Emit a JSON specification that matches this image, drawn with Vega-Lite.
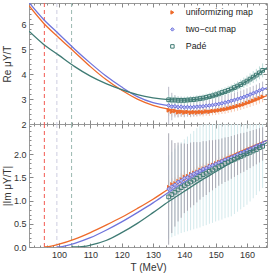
{
  "$schema": "https://vega.github.io/schema/vega-lite/v6.json",
  "padding": {"left": 1, "top": 2, "right": 0, "bottom": 0},
  "spacing": 0,
  "bounds": "flush",
  "datasets": {
    "thr": [
      {"T": 95.3, "s": "uniformizing map"},
      {"T": 99.3, "s": "two−cut map"},
      {"T": 104.0, "s": "Padé"}
    ],
    "curvesRe": [
      {"T": 90.4, "s": "uniformizing map", "v": 6.74}, {"T": 95, "s": "uniformizing map", "v": 6.05}, {"T": 100, "s": "uniformizing map", "v": 5.45}, {"T": 105, "s": "uniformizing map", "v": 4.88}, {"T": 110, "s": "uniformizing map", "v": 4.3}, {"T": 115, "s": "uniformizing map", "v": 3.78}, {"T": 120, "s": "uniformizing map", "v": 3.35}, {"T": 125, "s": "uniformizing map", "v": 3.0}, {"T": 130, "s": "uniformizing map", "v": 2.75}, {"T": 135, "s": "uniformizing map", "v": 2.6}, {"T": 140, "s": "uniformizing map", "v": 2.52}, {"T": 145, "s": "uniformizing map", "v": 2.51}, {"T": 150, "s": "uniformizing map", "v": 2.56}, {"T": 155, "s": "uniformizing map", "v": 2.67}, {"T": 160, "s": "uniformizing map", "v": 2.85}, {"T": 166.4, "s": "uniformizing map", "v": 3.14},
      {"T": 90.4, "s": "two−cut map", "v": 6.87}, {"T": 95, "s": "two−cut map", "v": 6.2}, {"T": 100, "s": "two−cut map", "v": 5.6}, {"T": 105, "s": "two−cut map", "v": 5.0}, {"T": 110, "s": "two−cut map", "v": 4.44}, {"T": 115, "s": "two−cut map", "v": 3.92}, {"T": 120, "s": "two−cut map", "v": 3.48}, {"T": 125, "s": "two−cut map", "v": 3.1}, {"T": 130, "s": "two−cut map", "v": 2.86}, {"T": 135, "s": "two−cut map", "v": 2.74}, {"T": 140, "s": "two−cut map", "v": 2.69}, {"T": 145, "s": "two−cut map", "v": 2.71}, {"T": 150, "s": "two−cut map", "v": 2.79}, {"T": 155, "s": "two−cut map", "v": 2.94}, {"T": 160, "s": "two−cut map", "v": 3.14}, {"T": 166.4, "s": "two−cut map", "v": 3.45},
      {"T": 90.4, "s": "Padé", "v": 5.72}, {"T": 95, "s": "Padé", "v": 5.2}, {"T": 100, "s": "Padé", "v": 4.75}, {"T": 105, "s": "Padé", "v": 4.3}, {"T": 110, "s": "Padé", "v": 3.92}, {"T": 115, "s": "Padé", "v": 3.62}, {"T": 120, "s": "Padé", "v": 3.38}, {"T": 125, "s": "Padé", "v": 3.18}, {"T": 130, "s": "Padé", "v": 3.05}, {"T": 135, "s": "Padé", "v": 2.98}, {"T": 140, "s": "Padé", "v": 2.96}, {"T": 145, "s": "Padé", "v": 3.01}, {"T": 150, "s": "Padé", "v": 3.15}, {"T": 155, "s": "Padé", "v": 3.38}, {"T": 160, "s": "Padé", "v": 3.72}, {"T": 166.4, "s": "Padé", "v": 4.25}
    ],
    "curvesIm": [
      {"T": 95.3, "s": "uniformizing map", "v": 0}, {"T": 97.5, "s": "uniformizing map", "v": 0.02}, {"T": 100, "s": "uniformizing map", "v": 0.06}, {"T": 105, "s": "uniformizing map", "v": 0.17}, {"T": 110, "s": "uniformizing map", "v": 0.31}, {"T": 115, "s": "uniformizing map", "v": 0.47}, {"T": 120, "s": "uniformizing map", "v": 0.64}, {"T": 125, "s": "uniformizing map", "v": 0.83}, {"T": 130, "s": "uniformizing map", "v": 1.03}, {"T": 135, "s": "uniformizing map", "v": 1.25}, {"T": 140, "s": "uniformizing map", "v": 1.45}, {"T": 145, "s": "uniformizing map", "v": 1.64}, {"T": 150, "s": "uniformizing map", "v": 1.81}, {"T": 155, "s": "uniformizing map", "v": 1.97}, {"T": 160, "s": "uniformizing map", "v": 2.12}, {"T": 166.4, "s": "uniformizing map", "v": 2.3},
      {"T": 99.3, "s": "two−cut map", "v": 0}, {"T": 101, "s": "two−cut map", "v": 0.01}, {"T": 105, "s": "two−cut map", "v": 0.08}, {"T": 110, "s": "two−cut map", "v": 0.2}, {"T": 115, "s": "two−cut map", "v": 0.36}, {"T": 120, "s": "two−cut map", "v": 0.54}, {"T": 125, "s": "two−cut map", "v": 0.74}, {"T": 130, "s": "two−cut map", "v": 0.95}, {"T": 135, "s": "two−cut map", "v": 1.18}, {"T": 140, "s": "two−cut map", "v": 1.4}, {"T": 145, "s": "two−cut map", "v": 1.6}, {"T": 150, "s": "two−cut map", "v": 1.78}, {"T": 155, "s": "two−cut map", "v": 1.95}, {"T": 160, "s": "two−cut map", "v": 2.11}, {"T": 166.4, "s": "two−cut map", "v": 2.3},
      {"T": 104, "s": "Padé", "v": 0}, {"T": 108, "s": "Padé", "v": 0.015}, {"T": 110, "s": "Padé", "v": 0.04}, {"T": 115, "s": "Padé", "v": 0.14}, {"T": 120, "s": "Padé", "v": 0.31}, {"T": 125, "s": "Padé", "v": 0.51}, {"T": 130, "s": "Padé", "v": 0.74}, {"T": 135, "s": "Padé", "v": 0.98}, {"T": 140, "s": "Padé", "v": 1.2}, {"T": 145, "s": "Padé", "v": 1.42}, {"T": 150, "s": "Padé", "v": 1.62}, {"T": 155, "s": "Padé", "v": 1.82}, {"T": 160, "s": "Padé", "v": 2.01}, {"T": 166.4, "s": "Padé", "v": 2.25}
    ],
    "pts": [
      {"T":135,"s":"uniformizing map","re":2.55,"reErr":0.22,"im":1.30,"imErr":0.14},
      {"T":136,"s":"uniformizing map","re":2.50,"reErr":0.2,"im":1.36,"imErr":0.12},
      {"T":137,"s":"uniformizing map","re":2.52,"reErr":0.2,"im":1.38,"imErr":0.12},
      {"T":138,"s":"uniformizing map","re":2.47,"reErr":0.19,"im":1.43,"imErr":0.12},
      {"T":139,"s":"uniformizing map","re":2.49,"reErr":0.19,"im":1.47,"imErr":0.12},
      {"T":140,"s":"uniformizing map","re":2.46,"reErr":0.18,"im":1.52,"imErr":0.12},
      {"T":141,"s":"uniformizing map","re":2.48,"reErr":0.18,"im":1.54,"imErr":0.11},
      {"T":142,"s":"uniformizing map","re":2.45,"reErr":0.18,"im":1.58,"imErr":0.11},
      {"T":143,"s":"uniformizing map","re":2.47,"reErr":0.18,"im":1.61,"imErr":0.11},
      {"T":144,"s":"uniformizing map","re":2.46,"reErr":0.17,"im":1.63,"imErr":0.11},
      {"T":145,"s":"uniformizing map","re":2.48,"reErr":0.17,"im":1.67,"imErr":0.11},
      {"T":146,"s":"uniformizing map","re":2.47,"reErr":0.17,"im":1.70,"imErr":0.1},
      {"T":147,"s":"uniformizing map","re":2.50,"reErr":0.17,"im":1.72,"imErr":0.1},
      {"T":148,"s":"uniformizing map","re":2.49,"reErr":0.17,"im":1.76,"imErr":0.1},
      {"T":149,"s":"uniformizing map","re":2.52,"reErr":0.17,"im":1.78,"imErr":0.1},
      {"T":150,"s":"uniformizing map","re":2.53,"reErr":0.17,"im":1.81,"imErr":0.1},
      {"T":151,"s":"uniformizing map","re":2.55,"reErr":0.17,"im":1.84,"imErr":0.1},
      {"T":152,"s":"uniformizing map","re":2.57,"reErr":0.17,"im":1.86,"imErr":0.1},
      {"T":153,"s":"uniformizing map","re":2.59,"reErr":0.18,"im":1.89,"imErr":0.1},
      {"T":154,"s":"uniformizing map","re":2.62,"reErr":0.18,"im":1.92,"imErr":0.1},
      {"T":155,"s":"uniformizing map","re":2.65,"reErr":0.18,"im":1.95,"imErr":0.1},
      {"T":156,"s":"uniformizing map","re":2.68,"reErr":0.18,"im":1.97,"imErr":0.1},
      {"T":157,"s":"uniformizing map","re":2.72,"reErr":0.19,"im":2.00,"imErr":0.1},
      {"T":158,"s":"uniformizing map","re":2.75,"reErr":0.19,"im":2.03,"imErr":0.1},
      {"T":159,"s":"uniformizing map","re":2.79,"reErr":0.19,"im":2.05,"imErr":0.1},
      {"T":160,"s":"uniformizing map","re":2.84,"reErr":0.2,"im":2.08,"imErr":0.1},
      {"T":161,"s":"uniformizing map","re":2.88,"reErr":0.2,"im":2.11,"imErr":0.1},
      {"T":162,"s":"uniformizing map","re":2.93,"reErr":0.2,"im":2.14,"imErr":0.1},
      {"T":163,"s":"uniformizing map","re":2.98,"reErr":0.21,"im":2.17,"imErr":0.1},
      {"T":164,"s":"uniformizing map","re":3.03,"reErr":0.21,"im":2.20,"imErr":0.1},
      {"T":165,"s":"uniformizing map","re":3.09,"reErr":0.22,"im":2.23,"imErr":0.1},
      {"T":135,"s":"two−cut map","re":2.74,"reErr":0.75,"im":1.25,"imErr":1.2},
      {"T":136,"s":"two−cut map","re":2.70,"reErr":0.55,"im":1.30,"imErr":1.0},
      {"T":137,"s":"two−cut map","re":2.71,"reErr":0.45,"im":1.34,"imErr":0.9},
      {"T":138,"s":"two−cut map","re":2.68,"reErr":0.42,"im":1.40,"imErr":0.85},
      {"T":139,"s":"two−cut map","re":2.69,"reErr":0.4,"im":1.43,"imErr":0.8},
      {"T":140,"s":"two−cut map","re":2.67,"reErr":0.4,"im":1.48,"imErr":0.75},
      {"T":141,"s":"two−cut map","re":2.68,"reErr":0.38,"im":1.50,"imErr":0.72},
      {"T":142,"s":"two−cut map","re":2.67,"reErr":0.38,"im":1.55,"imErr":0.7},
      {"T":143,"s":"two−cut map","re":2.68,"reErr":0.37,"im":1.58,"imErr":0.68},
      {"T":144,"s":"two−cut map","re":2.69,"reErr":0.36,"im":1.61,"imErr":0.65},
      {"T":145,"s":"two−cut map","re":2.70,"reErr":0.35,"im":1.64,"imErr":0.62},
      {"T":146,"s":"two−cut map","re":2.71,"reErr":0.35,"im":1.68,"imErr":0.6},
      {"T":147,"s":"two−cut map","re":2.73,"reErr":0.34,"im":1.70,"imErr":0.58},
      {"T":148,"s":"two−cut map","re":2.74,"reErr":0.34,"im":1.74,"imErr":0.56},
      {"T":149,"s":"two−cut map","re":2.76,"reErr":0.33,"im":1.76,"imErr":0.54},
      {"T":150,"s":"two−cut map","re":2.78,"reErr":0.33,"im":1.79,"imErr":0.52},
      {"T":151,"s":"two−cut map","re":2.80,"reErr":0.32,"im":1.82,"imErr":0.5},
      {"T":152,"s":"two−cut map","re":2.83,"reErr":0.32,"im":1.85,"imErr":0.49},
      {"T":153,"s":"two−cut map","re":2.86,"reErr":0.31,"im":1.88,"imErr":0.48},
      {"T":154,"s":"two−cut map","re":2.89,"reErr":0.31,"im":1.90,"imErr":0.47},
      {"T":155,"s":"two−cut map","re":2.93,"reErr":0.3,"im":1.93,"imErr":0.46},
      {"T":156,"s":"two−cut map","re":2.96,"reErr":0.3,"im":1.96,"imErr":0.45},
      {"T":157,"s":"two−cut map","re":3.00,"reErr":0.3,"im":1.99,"imErr":0.44},
      {"T":158,"s":"two−cut map","re":3.04,"reErr":0.3,"im":2.02,"imErr":0.43},
      {"T":159,"s":"two−cut map","re":3.08,"reErr":0.3,"im":2.04,"imErr":0.42},
      {"T":160,"s":"two−cut map","re":3.13,"reErr":0.3,"im":2.07,"imErr":0.41},
      {"T":161,"s":"two−cut map","re":3.18,"reErr":0.3,"im":2.10,"imErr":0.4},
      {"T":162,"s":"two−cut map","re":3.23,"reErr":0.3,"im":2.13,"imErr":0.39},
      {"T":163,"s":"two−cut map","re":3.28,"reErr":0.3,"im":2.16,"imErr":0.38},
      {"T":164,"s":"two−cut map","re":3.34,"reErr":0.3,"im":2.19,"imErr":0.37},
      {"T":165,"s":"two−cut map","re":3.40,"reErr":0.3,"im":2.22,"imErr":0.36},
      {"T":135,"s":"Padé","re":2.97,"reErr":0.2,"im":1.08,"imErr":0.9},
      {"T":136,"s":"Padé","re":2.96,"reErr":0.18,"im":1.13,"imErr":0.92},
      {"T":137,"s":"Padé","re":2.96,"reErr":0.17,"im":1.18,"imErr":0.94},
      {"T":138,"s":"Padé","re":2.95,"reErr":0.16,"im":1.23,"imErr":0.96},
      {"T":139,"s":"Padé","re":2.95,"reErr":0.15,"im":1.28,"imErr":0.98},
      {"T":140,"s":"Padé","re":2.95,"reErr":0.15,"im":1.32,"imErr":1.0},
      {"T":141,"s":"Padé","re":2.96,"reErr":0.15,"im":1.36,"imErr":1.02},
      {"T":142,"s":"Padé","re":2.97,"reErr":0.15,"im":1.40,"imErr":1.04},
      {"T":143,"s":"Padé","re":2.98,"reErr":0.15,"im":1.44,"imErr":1.06},
      {"T":144,"s":"Padé","re":3.00,"reErr":0.15,"im":1.48,"imErr":1.08},
      {"T":145,"s":"Padé","re":3.02,"reErr":0.15,"im":1.52,"imErr":1.1},
      {"T":146,"s":"Padé","re":3.04,"reErr":0.15,"im":1.56,"imErr":1.11},
      {"T":147,"s":"Padé","re":3.07,"reErr":0.15,"im":1.59,"imErr":1.12},
      {"T":148,"s":"Padé","re":3.10,"reErr":0.15,"im":1.63,"imErr":1.13},
      {"T":149,"s":"Padé","re":3.13,"reErr":0.16,"im":1.66,"imErr":1.14},
      {"T":150,"s":"Padé","re":3.17,"reErr":0.16,"im":1.70,"imErr":1.15},
      {"T":151,"s":"Padé","re":3.21,"reErr":0.16,"im":1.73,"imErr":1.16},
      {"T":152,"s":"Padé","re":3.26,"reErr":0.17,"im":1.76,"imErr":1.17},
      {"T":153,"s":"Padé","re":3.30,"reErr":0.17,"im":1.80,"imErr":1.18},
      {"T":154,"s":"Padé","re":3.35,"reErr":0.18,"im":1.83,"imErr":1.19},
      {"T":155,"s":"Padé","re":3.40,"reErr":0.18,"im":1.86,"imErr":1.2},
      {"T":156,"s":"Padé","re":3.46,"reErr":0.19,"im":1.89,"imErr":1.18},
      {"T":157,"s":"Padé","re":3.52,"reErr":0.19,"im":1.92,"imErr":1.16},
      {"T":158,"s":"Padé","re":3.58,"reErr":0.2,"im":1.95,"imErr":1.14},
      {"T":159,"s":"Padé","re":3.65,"reErr":0.21,"im":1.98,"imErr":1.12},
      {"T":160,"s":"Padé","re":3.72,"reErr":0.22,"im":2.01,"imErr":1.1},
      {"T":161,"s":"Padé","re":3.80,"reErr":0.23,"im":2.04,"imErr":1.06},
      {"T":162,"s":"Padé","re":3.88,"reErr":0.24,"im":2.07,"imErr":1.02},
      {"T":163,"s":"Padé","re":3.96,"reErr":0.25,"im":2.10,"imErr":0.98},
      {"T":164,"s":"Padé","re":4.05,"reErr":0.26,"im":2.14,"imErr":0.94},
      {"T":165,"s":"Padé","re":4.15,"reErr":0.28,"im":2.17,"imErr":0.9}
    ]
  },
  "vconcat": [
    {
      "width": 238,
      "height": 121,
      "resolve": {"axis": {"x": "independent", "y": "independent"}},
      "layer": [
        {
          "data": {"name": "thr"},
          "transform": [{"filter": "datum.s === 'uniformizing map'"}],
          "mark": {"type": "rule", "strokeDash": [4, 3], "strokeWidth": 1, "color": "#f25a52"},
          "encoding": {
            "x": {"field": "T", "type": "quantitative", "scale": {"domain": [90.4, 166.4], "nice": false, "zero": false},
                  "axis": {"orient": "bottom", "values": [100, 110, 120, 130, 140, 150, 160], "labels": false, "tickSize": -4, "title": null}}
          }
        },
        {
          "data": {"name": "thr"},
          "transform": [{"filter": "datum.s === 'two−cut map'"}],
          "mark": {"type": "rule", "strokeDash": [4, 3], "strokeWidth": 1, "color": "#cdcde0"},
          "encoding": {"x": {"field": "T", "type": "quantitative", "axis": null}}
        },
        {
          "data": {"name": "thr"},
          "transform": [{"filter": "datum.s === 'Padé'"}],
          "mark": {"type": "rule", "strokeDash": [4, 3], "strokeWidth": 1, "color": "#9bb8b0"},
          "encoding": {"x": {"field": "T", "type": "quantitative", "axis": null}}
        },
        {
          "data": {"name": "pts"},
          "transform": [{"filter": "datum.s === 'uniformizing map'"}],
          "mark": {"type": "errorbar", "ticks": false, "color": "#f8c6ad", "clip": true},
          "encoding": {
            "x": {"field": "T", "type": "quantitative", "axis": {"orient": "bottom", "values": [92, 94, 96, 98, 102, 104, 106, 108, 112, 114, 116, 118, 122, 124, 126, 128, 132, 134, 136, 138, 142, 144, 146, 148, 152, 154, 156, 158, 162, 164, 166], "labels": false, "tickSize": -2, "title": null}},
            "y": {"field": "re", "type": "quantitative", "scale": {"domain": [2, 6.85], "nice": false, "zero": false},
                  "axis": {"orient": "left", "values": [2, 3, 4, 5, 6], "tickSize": -4, "labelPadding": 7, "title": "Re μY/T", "titleX": -17}},
            "yError": {"field": "reErr"}
          }
        },
        {
          "data": {"name": "pts"},
          "transform": [{"filter": "datum.s === 'two−cut map'"}],
          "mark": {"type": "errorbar", "ticks": false, "color": "#b9b9c8", "clip": true},
          "encoding": {
            "x": {"field": "T", "type": "quantitative", "axis": {"orient": "top", "values": [100, 110, 120, 130, 140, 150, 160], "labels": false, "tickSize": -4, "title": null}},
            "y": {"field": "re", "type": "quantitative",
                  "axis": {"orient": "left", "values": [2.2, 2.4, 2.6, 2.8, 3.2, 3.4, 3.6, 3.8, 4.2, 4.4, 4.6, 4.8, 5.2, 5.4, 5.6, 5.8, 6.2, 6.4, 6.6, 6.8], "labels": false, "tickSize": -2, "title": null}},
            "yError": {"field": "reErr"}
          }
        },
        {
          "data": {"name": "pts"},
          "transform": [{"filter": "datum.s === 'Padé'"}],
          "mark": {"type": "errorbar", "ticks": false, "color": "#bddcd8", "clip": true},
          "encoding": {
            "x": {"field": "T", "type": "quantitative", "axis": {"orient": "top", "values": [92, 94, 96, 98, 102, 104, 106, 108, 112, 114, 116, 118, 122, 124, 126, 128, 132, 134, 136, 138, 142, 144, 146, 148, 152, 154, 156, 158, 162, 164, 166], "labels": false, "tickSize": -2, "title": null}},
            "y": {"field": "re", "type": "quantitative",
                  "axis": {"orient": "right", "values": [2, 3, 4, 5, 6], "labels": false, "tickSize": -4, "title": null}},
            "yError": {"field": "reErr"}
          }
        },
        {
          "data": {"name": "curvesRe"},
          "transform": [{"filter": "datum.s === 'uniformizing map'"}],
          "mark": {"type": "line", "color": "#ee6a2a", "strokeWidth": 1.3, "interpolate": "monotone", "clip": true},
          "encoding": {
            "x": {"field": "T", "type": "quantitative", "axis": null},
            "y": {"field": "v", "type": "quantitative",
                  "axis": {"orient": "right", "values": [2.2, 2.4, 2.6, 2.8, 3.2, 3.4, 3.6, 3.8, 4.2, 4.4, 4.6, 4.8, 5.2, 5.4, 5.6, 5.8, 6.2, 6.4, 6.6, 6.8], "labels": false, "tickSize": -2, "title": null}}
          }
        },
        {
          "data": {"name": "curvesRe"},
          "transform": [{"filter": "datum.s === 'two−cut map'"}],
          "mark": {"type": "line", "color": "#6f74dc", "strokeWidth": 1.3, "interpolate": "monotone", "clip": true},
          "encoding": {
            "x": {"field": "T", "type": "quantitative", "axis": null},
            "y": {"field": "v", "type": "quantitative", "axis": null}
          }
        },
        {
          "data": {"name": "curvesRe"},
          "transform": [{"filter": "datum.s === 'Padé'"}],
          "mark": {"type": "line", "color": "#3f7b74", "strokeWidth": 1.3, "interpolate": "monotone", "clip": true},
          "encoding": {
            "x": {"field": "T", "type": "quantitative", "axis": null},
            "y": {"field": "v", "type": "quantitative", "axis": null}
          }
        },
        {
          "data": {"name": "pts"},
          "mark": {"type": "point", "size": 14, "strokeWidth": 1, "opacity": 1, "clip": true},
          "encoding": {
            "x": {"field": "T", "type": "quantitative", "axis": null},
            "y": {"field": "re", "type": "quantitative", "axis": null},
            "stroke": {"field": "s", "type": "nominal", "scale": {"domain": ["uniformizing map", "two−cut map", "Padé"], "range": ["#ee6a2a", "#6f74dc", "#3f7b74"]},
                       "legend": {"orient": "none", "legendX": 139, "legendY": 5, "title": null, "labelFont": "Liberation Sans", "labelFontSize": 8.8, "labelColor": "#222", "labelOffset": 9, "symbolSize": 12, "symbolStrokeWidth": 1, "rowPadding": 7, "padding": 0}},
            "fill": {"field": "s", "type": "nominal", "scale": {"domain": ["uniformizing map", "two−cut map", "Padé"], "range": ["#ee6a2a", "#b6b9f2", "transparent"]},
                     "legend": {"orient": "none", "legendX": 139, "legendY": 5, "title": null, "labelFont": "Liberation Sans", "labelFontSize": 8.8, "labelColor": "#222", "labelOffset": 9, "symbolSize": 12, "symbolStrokeWidth": 1, "rowPadding": 7, "padding": 0}},
            "shape": {"field": "s", "type": "nominal", "scale": {"domain": ["uniformizing map", "two−cut map", "Padé"], "range": ["triangle-right", "diamond", "square"]},
                      "legend": {"orient": "none", "legendX": 139, "legendY": 5, "title": null, "labelFont": "Liberation Sans", "labelFontSize": 8.8, "labelColor": "#222", "labelOffset": 9, "symbolSize": 12, "symbolStrokeWidth": 1, "rowPadding": 7, "padding": 0}}
          }
        }
      ]
    },
    {
      "width": 238,
      "height": 123,
      "resolve": {"axis": {"x": "independent", "y": "independent"}},
      "layer": [
        {
          "data": {"name": "thr"},
          "transform": [{"filter": "datum.s === 'uniformizing map'"}],
          "mark": {"type": "rule", "strokeDash": [4, 3], "strokeWidth": 1, "color": "#f25a52"},
          "encoding": {
            "x": {"field": "T", "type": "quantitative", "scale": {"domain": [90.4, 166.4], "nice": false, "zero": false},
                  "axis": {"orient": "bottom", "values": [100, 110, 120, 130, 140, 150, 160], "tickSize": -4, "labelPadding": 7, "title": "T (MeV)"}}
          }
        },
        {
          "data": {"name": "thr"},
          "transform": [{"filter": "datum.s === 'two−cut map'"}],
          "mark": {"type": "rule", "strokeDash": [4, 3], "strokeWidth": 1, "color": "#cdcde0"},
          "encoding": {"x": {"field": "T", "type": "quantitative", "axis": null}}
        },
        {
          "data": {"name": "thr"},
          "transform": [{"filter": "datum.s === 'Padé'"}],
          "mark": {"type": "rule", "strokeDash": [4, 3], "strokeWidth": 1, "color": "#9bb8b0"},
          "encoding": {"x": {"field": "T", "type": "quantitative", "axis": null}}
        },
        {
          "data": {"name": "pts"},
          "transform": [{"filter": "datum.s === 'uniformizing map'"}],
          "mark": {"type": "errorbar", "ticks": false, "color": "#f8c6ad", "clip": true},
          "encoding": {
            "x": {"field": "T", "type": "quantitative", "axis": {"orient": "bottom", "values": [92, 94, 96, 98, 102, 104, 106, 108, 112, 114, 116, 118, 122, 124, 126, 128, 132, 134, 136, 138, 142, 144, 146, 148, 152, 154, 156, 158, 162, 164, 166], "labels": false, "tickSize": -2, "title": null}},
            "y": {"field": "im", "type": "quantitative", "scale": {"domain": [0, 2.65], "nice": false, "zero": false},
                  "axis": {"orient": "left", "values": [0, 0.5, 1, 1.5, 2], "format": ".1f", "tickSize": -4, "labelPadding": 7, "title": "|Im μY/T|", "titleX": -17}},
            "yError": {"field": "imErr"}
          }
        },
        {
          "data": {"name": "pts"},
          "transform": [{"filter": "datum.s === 'Padé'"}],
          "mark": {"type": "errorbar", "ticks": false, "color": "#d3e9ec", "clip": true},
          "encoding": {
            "x": {"field": "T", "type": "quantitative", "axis": {"orient": "top", "values": [100, 110, 120, 130, 140, 150, 160], "labels": false, "tickSize": -4, "title": null}},
            "y": {"field": "im", "type": "quantitative",
                  "axis": {"orient": "left", "values": [0.1, 0.2, 0.3, 0.4, 0.6, 0.7, 0.8, 0.9, 1.1, 1.2, 1.3, 1.4, 1.6, 1.7, 1.8, 1.9, 2.1, 2.2, 2.3, 2.4, 2.5, 2.6], "labels": false, "tickSize": -2, "title": null}},
            "yError": {"field": "imErr"}
          }
        },
        {
          "data": {"name": "pts"},
          "transform": [{"filter": "datum.s === 'two−cut map'"}],
          "mark": {"type": "errorbar", "ticks": false, "color": "#a9a9b4", "clip": true},
          "encoding": {
            "x": {"field": "T", "type": "quantitative", "axis": {"orient": "top", "values": [92, 94, 96, 98, 102, 104, 106, 108, 112, 114, 116, 118, 122, 124, 126, 128, 132, 134, 136, 138, 142, 144, 146, 148, 152, 154, 156, 158, 162, 164, 166], "labels": false, "tickSize": -2, "title": null}},
            "y": {"field": "im", "type": "quantitative",
                  "axis": {"orient": "right", "values": [0, 0.5, 1, 1.5, 2], "labels": false, "tickSize": -4, "title": null}},
            "yError": {"field": "imErr"}
          }
        },
        {
          "data": {"name": "curvesIm"},
          "transform": [{"filter": "datum.s === 'uniformizing map'"}],
          "mark": {"type": "line", "color": "#ee6a2a", "strokeWidth": 1.3, "interpolate": "monotone", "clip": true},
          "encoding": {
            "x": {"field": "T", "type": "quantitative", "axis": null},
            "y": {"field": "v", "type": "quantitative",
                  "axis": {"orient": "right", "values": [0.1, 0.2, 0.3, 0.4, 0.6, 0.7, 0.8, 0.9, 1.1, 1.2, 1.3, 1.4, 1.6, 1.7, 1.8, 1.9, 2.1, 2.2, 2.3, 2.4, 2.5, 2.6], "labels": false, "tickSize": -2, "title": null}}
          }
        },
        {
          "data": {"name": "curvesIm"},
          "transform": [{"filter": "datum.s === 'two−cut map'"}],
          "mark": {"type": "line", "color": "#6f74dc", "strokeWidth": 1.3, "interpolate": "monotone", "clip": true},
          "encoding": {
            "x": {"field": "T", "type": "quantitative", "axis": null},
            "y": {"field": "v", "type": "quantitative", "axis": null}
          }
        },
        {
          "data": {"name": "curvesIm"},
          "transform": [{"filter": "datum.s === 'Padé'"}],
          "mark": {"type": "line", "color": "#3f7b74", "strokeWidth": 1.3, "interpolate": "monotone", "clip": true},
          "encoding": {
            "x": {"field": "T", "type": "quantitative", "axis": null},
            "y": {"field": "v", "type": "quantitative", "axis": null}
          }
        },
        {
          "data": {"name": "pts"},
          "transform": [{"filter": "datum.s === 'uniformizing map'"}],
          "mark": {"type": "point", "shape": "triangle-right", "size": 14, "strokeWidth": 1, "opacity": 1, "filled": true, "color": "#ee6a2a", "clip": true},
          "encoding": {
            "x": {"field": "T", "type": "quantitative", "axis": null},
            "y": {"field": "im", "type": "quantitative", "axis": null}
          }
        },
        {
          "data": {"name": "pts"},
          "transform": [{"filter": "datum.s === 'two−cut map'"}],
          "mark": {"type": "point", "shape": "diamond", "size": 14, "strokeWidth": 1, "opacity": 1, "fill": "#b6b9f2", "stroke": "#6f74dc", "clip": true},
          "encoding": {
            "x": {"field": "T", "type": "quantitative", "axis": null},
            "y": {"field": "im", "type": "quantitative", "axis": null}
          }
        },
        {
          "data": {"name": "pts"},
          "transform": [{"filter": "datum.s === 'Padé'"}],
          "mark": {"type": "point", "shape": "square", "size": 14, "strokeWidth": 1, "opacity": 1, "filled": false, "color": "#3f7b74", "clip": true},
          "encoding": {
            "x": {"field": "T", "type": "quantitative", "axis": null},
            "y": {"field": "im", "type": "quantitative", "axis": null}
          }
        }
      ]
    }
  ],
  "config": {
    "view": {"stroke": "#999", "strokeWidth": 1},
    "axis": {"labelFont": "Liberation Sans", "titleFont": "Liberation Sans", "labelFontSize": 9, "titleFontSize": 10, "titleFontWeight": "normal", "labelColor": "#333", "titleColor": "#333", "tickColor": "#888", "domain": false, "grid": false, "labelFlush": false, "labelOverlap": false, "titlePadding": 3}
  }
}
